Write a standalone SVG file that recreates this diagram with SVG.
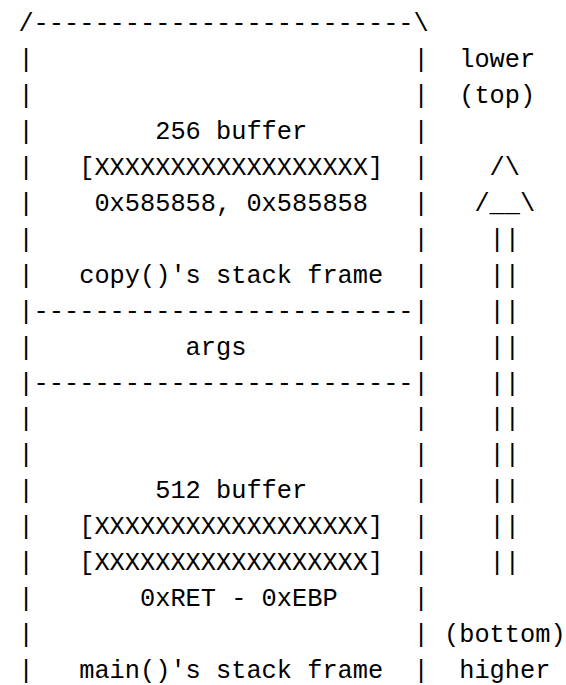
<svg xmlns="http://www.w3.org/2000/svg" width="566" height="685" viewBox="0 0 566 685" xml:space="preserve">
<style>
text{font-family:"Liberation Mono","DejaVu Sans Mono",monospace;font-size:25.33px;fill:#000;white-space:pre}
</style>
<rect width="566" height="685" fill="#fff"/>
<g id="stack-border">
<text x="18.4" y="31.1">/-------------------------\</text>
<text x="18.4" y="67">|</text><text x="413.6" y="67">|</text>
<text x="18.4" y="102.9">|</text><text x="413.6" y="102.9">|</text>
<text x="18.4" y="138.9">|</text><text x="413.6" y="138.9">|</text>
<text x="18.4" y="174.8">|</text><text x="413.6" y="174.8">|</text>
<text x="18.4" y="210.8">|</text><text x="413.6" y="210.8">|</text>
<text x="18.4" y="246.7">|</text><text x="413.6" y="246.7">|</text>
<text x="18.4" y="282.6">|</text><text x="413.6" y="282.6">|</text>
<text x="18.4" y="318.6">|-------------------------|</text>
<text x="18.4" y="354.5">|</text><text x="413.6" y="354.5">|</text>
<text x="18.4" y="390.5">|-------------------------|</text>
<text x="18.4" y="426.4">|</text><text x="413.6" y="426.4">|</text>
<text x="18.4" y="462.3">|</text><text x="413.6" y="462.3">|</text>
<text x="18.4" y="498.3">|</text><text x="413.6" y="498.3">|</text>
<text x="18.4" y="534.2">|</text><text x="413.6" y="534.2">|</text>
<text x="18.4" y="570.2">|</text><text x="413.6" y="570.2">|</text>
<text x="18.4" y="606.1">|</text><text x="413.6" y="606.1">|</text>
<text x="18.4" y="642">|</text><text x="413.6" y="642">|</text>
<text x="18.4" y="678">|</text><text x="413.6" y="678">|</text>
</g>
<g id="copy-frame">
<text x="155.2" y="138.9">256 buffer</text>
<text x="79.2" y="174.8">[XXXXXXXXXXXXXXXXXX]</text>
<text x="94.4" y="210.8">0x585858, 0x585858</text>
<text x="79.2" y="282.6">copy()'s stack frame</text>
</g>
<g id="args">
<text x="185.6" y="354.5">args</text>
</g>
<g id="main-frame">
<text x="155.2" y="498.3">512 buffer</text>
<text x="79.2" y="534.2">[XXXXXXXXXXXXXXXXXX]</text>
<text x="79.2" y="570.2">[XXXXXXXXXXXXXXXXXX]</text>
<text x="140" y="606.1">0xRET - 0xEBP</text>
<text x="79.2" y="678">main()'s stack frame</text>
</g>
<g id="top-label">
<text x="459.2" y="67">lower</text>
<text x="459.2" y="102.9">(top)</text>
</g>
<g id="bottom-label">
<text x="444" y="642">(bottom)</text>
<text x="459.2" y="678">higher</text>
</g>
<g id="connectors">
<text x="489.6" y="174.8">/\</text>
<text x="474.4" y="210.8">/__\</text>
<text x="489.6" y="246.7">||</text>
<text x="489.6" y="282.6">||</text>
<text x="489.6" y="318.6">||</text>
<text x="489.6" y="354.5">||</text>
<text x="489.6" y="390.5">||</text>
<text x="489.6" y="426.4">||</text>
<text x="489.6" y="462.3">||</text>
<text x="489.6" y="498.3">||</text>
<text x="489.6" y="534.2">||</text>
<text x="489.6" y="570.2">||</text>
</g>
</svg>
